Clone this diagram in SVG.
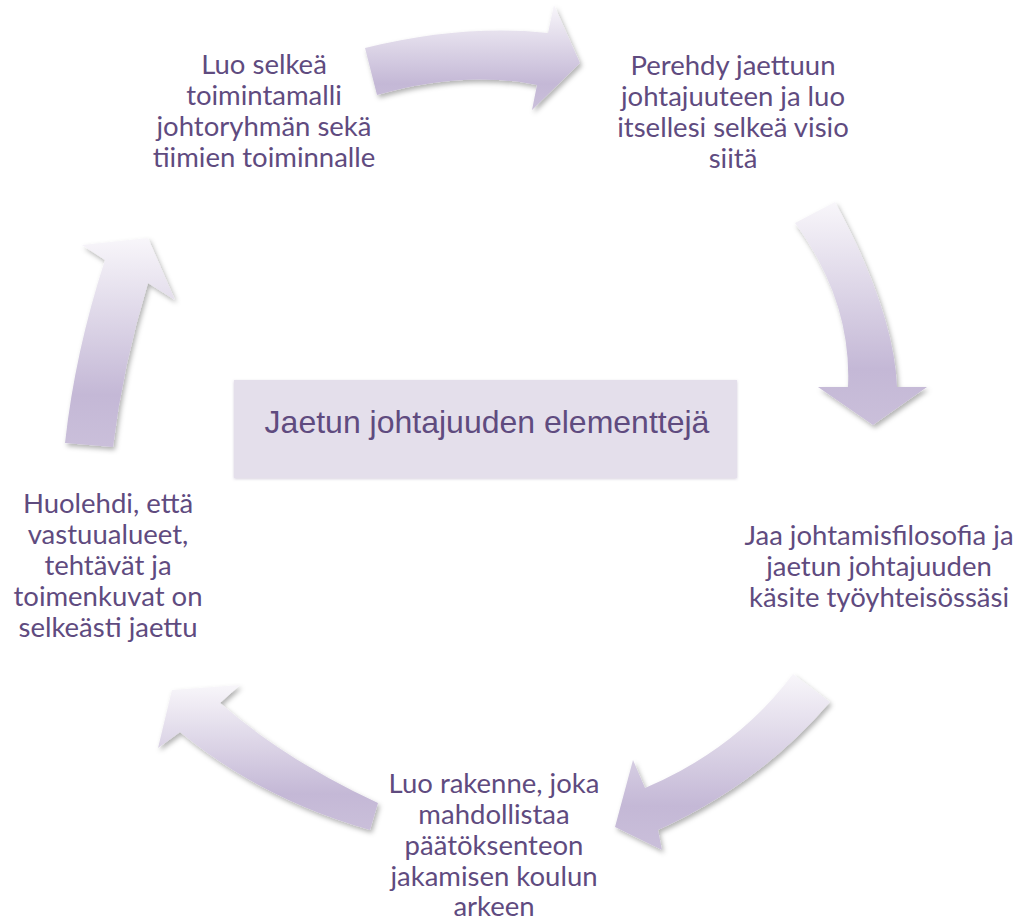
<svg xmlns="http://www.w3.org/2000/svg" width="1024" height="924" viewBox="0 0 1024 924">
  <defs>
    <linearGradient id="arrowGrad" x1="0" y1="0" x2="0" y2="1">
      <stop offset="0" stop-color="#f8f6fa"/>
      <stop offset="0.75" stop-color="#c4b8d6"/>
      <stop offset="1" stop-color="#cabfda"/>
    </linearGradient>
    <filter id="shadow" x="-20%" y="-20%" width="140%" height="140%">
      <feDropShadow dx="2" dy="3" stdDeviation="2.5" flood-color="#000" flood-opacity="0.3"/>
    </filter>
    <filter id="boxShadow" x="-5%" y="-10%" width="110%" height="120%">
      <feDropShadow dx="0" dy="1" stdDeviation="1.5" flood-color="#8a7aa0" flood-opacity="0.35"/>
    </filter>
    <style>
      .arrow { fill: url(#arrowGrad); filter: url(#shadow); }
      .lbl { font-family: Lato, "Liberation Sans", sans-serif; font-size: 27.5px; fill: #5f4b7f; text-anchor: middle; }
      .title { font-family: "Liberation Sans", Arial, sans-serif; font-size: 32px; fill: #5f4b7f; text-anchor: middle; }
    </style>
  </defs>
  <rect width="1024" height="924" fill="#ffffff"/>

  <g id="connectors">
    <path class="arrow" d="M365,48 Q463,24 548,33 L554,5 L580,63 L532,110 L537,85 Q463,70 377,95 Z"/>
    <path class="arrow" d="M835,202 Q894,311 897,387 L927,387 L873,425 L818,387 L848,387 Q852,301 795,223 Z"/>
    <path class="arrow" d="M830,702 Q760,784 658,830 L662,850 L615,827 L633,760 L645,788 Q737,749 793,674 Z"/>
    <path class="arrow" d="M378,803 Q287,761 220,703 L240,685 L172,690 L158,748 L180,732 Q261,799 370,830 Z"/>
    <path class="arrow" d="M113,447 Q123,365 148,283 L175,300 L148,238 L82,245 L105,260 Q75,352 65,443 Z"/>
  </g>

  <g id="center">
    <rect x="234" y="380" width="503" height="98" fill="#e4dfeb" filter="url(#boxShadow)"/>
    <text class="title" x="487" y="433">Jaetun johtajuuden elementtejä</text>
  </g>

  <g id="node-top-right">
    <text class="lbl" x="733" y="75">Perehdy jaettuun</text>
    <text class="lbl" x="733" y="106">johtajuuteen ja luo</text>
    <text class="lbl" x="733" y="137">itsellesi selkeä visio</text>
    <text class="lbl" x="733" y="168">siitä</text>
  </g>

  <g id="node-right">
    <text class="lbl" x="879" y="545">Jaa johtamisfilosofia ja</text>
    <text class="lbl" x="879" y="576">jaetun johtajuuden</text>
    <text class="lbl" x="879" y="607">käsite työyhteisössäsi</text>
  </g>

  <g id="node-bottom">
    <text class="lbl" x="494" y="793">Luo rakenne, joka</text>
    <text class="lbl" x="494" y="824">mahdollistaa</text>
    <text class="lbl" x="494" y="855">päätöksenteon</text>
    <text class="lbl" x="494" y="886">jakamisen koulun</text>
    <text class="lbl" x="494" y="916">arkeen</text>
  </g>

  <g id="node-left">
    <text class="lbl" x="108" y="513">Huolehdi, että</text>
    <text class="lbl" x="108" y="544">vastuualueet,</text>
    <text class="lbl" x="108" y="575">tehtävät ja</text>
    <text class="lbl" x="108" y="606">toimenkuvat on</text>
    <text class="lbl" x="108" y="637">selkeästi jaettu</text>
  </g>

  <g id="node-top-left">
    <text class="lbl" x="264" y="74">Luo selkeä</text>
    <text class="lbl" x="264" y="105">toimintamalli</text>
    <text class="lbl" x="264" y="136">johtoryhmän sekä</text>
    <text class="lbl" x="264" y="167">tiimien toiminnalle</text>
  </g>
</svg>
